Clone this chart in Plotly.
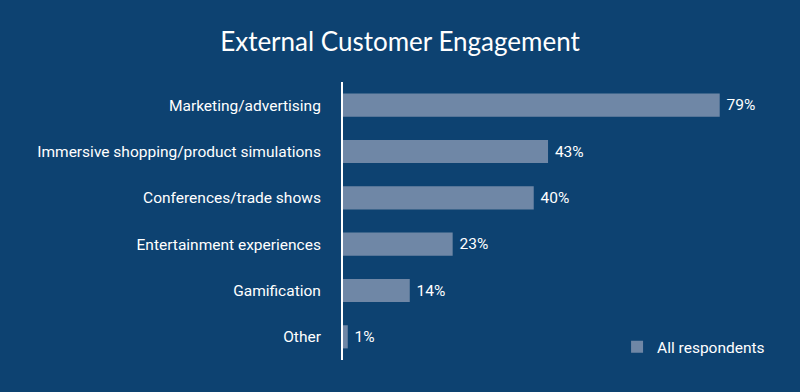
import plotly.graph_objects as go

categories = ["Marketing/advertising", "Immersive shopping/product simulations",
              "Conferences/trade shows", "Entertainment experiences", "Gamification", "Other"]
values = [79, 43, 40, 23, 14, 1]
labels = [f" {v}%" for v in values]
series_name = "All respondents"
title = "External Customer Engagement"

bg = "#0d4271"
bar_color = "#6f87a6"
cond = "Liberation Sans Narrow, Roboto, sans-serif"

fig = go.Figure()
fig.add_trace(go.Bar(
    y=categories, x=values, orientation="h", name=series_name,
    marker=dict(color=bar_color, line=dict(width=0)),
    text=labels, textposition="outside", cliponaxis=False,
    textfont=dict(color="white", size=15.5, family=cond),
    width=0.5, showlegend=True,
))
fig.update_layout(
    width=800, height=392,
    paper_bgcolor=bg, plot_bgcolor=bg,
    margin=dict(l=343, r=4, t=82, b=32),
    title=dict(text=title, x=0.5, xanchor="center", y=0.893, yanchor="middle",
               font=dict(family="Lato, Noto Sans, sans-serif", size=26, color="white")),
    xaxis=dict(range=[0, 95], visible=False, showgrid=False, zeroline=False),
    yaxis=dict(autorange="reversed", showgrid=False, zeroline=False,
               showline=True, linecolor="white", linewidth=2,
               ticks="outside", ticklen=17, tickcolor="rgba(0,0,0,0)",
               tickfont=dict(color="white", size=15.5, family=cond)),
    legend=dict(x=0.605, xanchor="left", y=0.046, yanchor="middle",
                font=dict(color="white", size=15.5, family=cond),
                bgcolor="rgba(0,0,0,0)", itemwidth=30),
    bargap=0.5,
)
fig.write_html("out.html", config={"displayModeBar": False},
               post_script="document.body.style.margin='0';document.body.style.background='" + bg + "';")
